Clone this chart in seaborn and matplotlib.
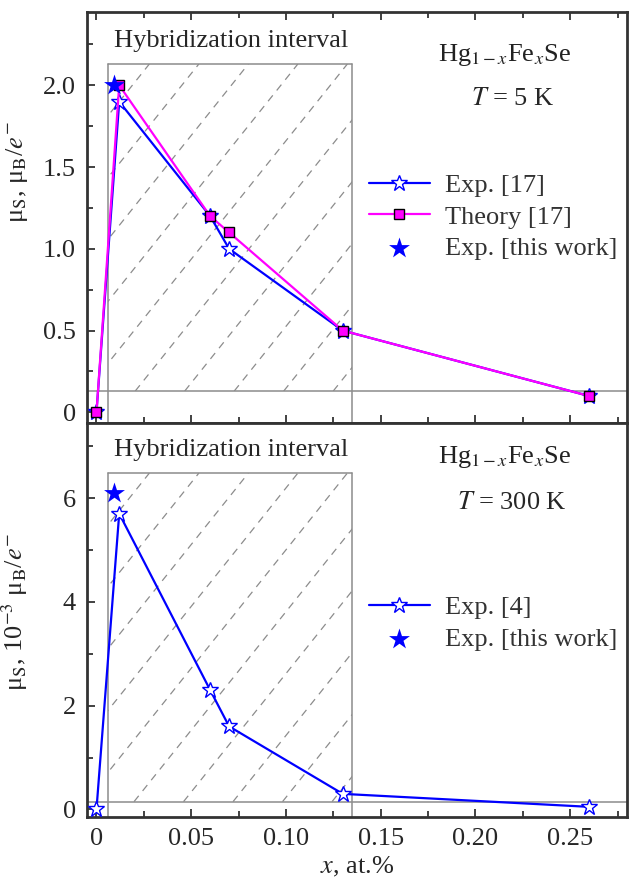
import numpy as np
import matplotlib
matplotlib.use("Agg")
import matplotlib.pyplot as plt
import seaborn as sns
from matplotlib.patches import Rectangle
from matplotlib.ticker import MultipleLocator, FuncFormatter

# ---------------- data ----------------
# T = 5 K panel
x_exp17 = [0, 0.012, 0.06, 0.07, 0.13, 0.26]
mu_exp17 = [0, 1.9, 1.2, 1.0, 0.5, 0.1]
x_theory17 = [0, 0.012, 0.06, 0.07, 0.13, 0.26]
mu_theory17 = [0, 2.0, 1.2, 1.1, 0.5, 0.1]
x_this_5K = [0.009]
mu_this_5K = [2.0]

# T = 300 K panel
x_exp4 = [0, 0.012, 0.06, 0.07, 0.13, 0.26]
mu_exp4 = [0, 5.7, 2.3, 1.6, 0.3, 0.05]
x_this_300K = [0.009]
mu_this_300K = [6.1]

# hybridization interval box
hyb_x = (0.006, 0.135)
hyb_y_5K = (0.13, 2.13)
hyb_y_300K = (0.15, 6.48)

BLUE = "#0000ff"
MAGENTA = "#ff00ff"
GREY = "#8c8c8c"
FRAME = "#333333"

sns.set_style("ticks")
plt.rcParams["font.family"] = ["Liberation Serif", "DejaVu Serif"]
plt.rcParams["mathtext.fontset"] = "stix"
plt.rcParams["font.size"] = 19

fig = plt.figure(figsize=(6.32, 8.81), dpi=100)
W, H = 632, 881
ax1 = fig.add_axes([87 / W, (H - 423) / H, 540 / W, 411.3 / H])
ax2 = fig.add_axes([87 / W, (H - 816.7) / H, 540 / W, 393.4 / H])

ax1.set_xlim(-0.005, 0.28)
ax2.set_xlim(-0.005, 0.28)
ax1.set_ylim(-0.065, 2.45)
ax2.set_ylim(-0.14, 7.44)


def hybrid_box(ax, xr, yr):
    x0, x1 = xr
    y0, y1 = yr
    ylo, yhi = ax.get_ylim()
    # full-width lower line and the two side lines down to the axis
    ax.axhline(y0, color=GREY, lw=1.1, zorder=1)
    top_frac = (y1 - ylo) / (yhi - ylo)
    ax.axvline(x0, ymax=top_frac, color=GREY, lw=1.1, zorder=1)
    ax.axvline(x1, ymax=top_frac, color=GREY, lw=1.1, zorder=1)
    ax.plot([x0, x1], [y1, y1], color=GREY, lw=1.1, zorder=1)
    clip = Rectangle((x0, y0), x1 - x0, y1 - y0, transform=ax.transData,
                     fill=False, lw=0)
    ax.add_patch(clip)
    # dashed diagonal hatching, drawn in pixel space then mapped back
    k = fig.dpi / 100.0
    (px0, py0), (px1, py1) = ax.transData.transform([(x0, y0), (x1, y1)])
    inv = ax.transData.inverted()
    slope = 1.25
    run = (py1 - py0) / slope
    for xt in np.arange(px0 - 8 * k, px1 + run, 49.5 * k):
        pts = inv.transform([(xt - run, py0), (xt, py1)])
        ln, = ax.plot(pts[:, 0], pts[:, 1], color=GREY, lw=0.9,
                      ls=(0, (6, 5)), zorder=1)
        ln.set_clip_path(clip)


hybrid_box(ax1, hyb_x, hyb_y_5K)
hybrid_box(ax2, hyb_x, hyb_y_300K)

# ---------------- top panel ----------------
sns.lineplot(x=x_exp17, y=mu_exp17, sort=False, ax=ax1, color=BLUE, lw=1.6,
             marker="*", markersize=12, markerfacecolor="white",
             markeredgecolor=BLUE, markeredgewidth=1.0, label="Exp. [17]",
             zorder=3)
sns.lineplot(x=x_theory17, y=mu_theory17, sort=False, ax=ax1, color=MAGENTA,
             lw=1.6, marker="s", markersize=6.5, markerfacecolor=MAGENTA,
             markeredgecolor="black", markeredgewidth=1.0,
             label="Theory [17]", zorder=4)
sns.scatterplot(x=x_this_5K, y=mu_this_5K, ax=ax1, marker="*", s=250,
                color=BLUE, edgecolor=BLUE, linewidth=0,
                label="Exp. [this work]", zorder=5)

# ---------------- bottom panel ----------------
sns.lineplot(x=x_exp4, y=mu_exp4, sort=False, ax=ax2, color=BLUE, lw=1.6,
             marker="*", markersize=12, markerfacecolor="white",
             markeredgecolor=BLUE, markeredgewidth=1.0, label="Exp. [4]",
             zorder=3)
sns.scatterplot(x=x_this_300K, y=mu_this_300K, ax=ax2, marker="*", s=250,
                color=BLUE, edgecolor=BLUE, linewidth=0,
                label="Exp. [this work]", zorder=5)

# ---------------- axes styling ----------------
for ax in (ax1, ax2):
    for sp in ax.spines.values():
        sp.set_color(FRAME)
        sp.set_linewidth(2.0)
    ax.xaxis.set_major_locator(MultipleLocator(0.05))
    ax.xaxis.set_minor_locator(MultipleLocator(0.025))
    ax.tick_params(which="both", direction="in", color=FRAME, width=1.3,
                   labelsize=19, pad=8, right=False)
    ax.tick_params(which="major", length=6)
    ax.tick_params(which="minor", length=4)
    ax.set_xlabel("")

ax1.tick_params(which="both", top=True, labelbottom=False)
ax1.yaxis.set_major_locator(MultipleLocator(0.5))
ax1.yaxis.set_minor_locator(MultipleLocator(0.25))
ax1.yaxis.set_major_formatter(FuncFormatter(lambda v, p: "0" if abs(v) < 1e-9 else f"{v:.1f}"))
ax2.yaxis.set_major_locator(MultipleLocator(2))
ax2.yaxis.set_minor_locator(MultipleLocator(1))
ax2.yaxis.set_major_formatter(FuncFormatter(lambda v, p: f"{v:.0f}"))
ax2.xaxis.set_major_formatter(FuncFormatter(lambda v, p: "0" if abs(v) < 1e-9 else f"{v:.2f}"))

ax1.set_ylabel("μ$_\\mathrm{S}$, μ$_\\mathrm{B}$/$e^{-}$", fontsize=19)
ax1.yaxis.set_label_coords(-0.105, 0.61)
ax2.set_ylabel("μ$_\\mathrm{S}$, 10$^{-3}$ μ$_\\mathrm{B}$/$e^{-}$", fontsize=19)
ax2.yaxis.set_label_coords(-0.105, 0.52)
ax2.set_xlabel("$x$, at.%", fontsize=19, labelpad=4)

# annotations
ax1.text(0.267, 0.915, "Hybridization interval", transform=ax1.transAxes,
         ha="center", va="baseline", fontsize=19)
ax1.text(0.774, 0.881, "Hg$_{1-x}$Fe$_{x}$Se", transform=ax1.transAxes,
         ha="center", va="baseline", fontsize=19, color="#222222")
ax1.text(0.789, 0.773, "$T$ = 5 K", transform=ax1.transAxes,
         ha="center", va="baseline", fontsize=19)
ax2.text(0.267, 0.918, "Hybridization interval", transform=ax2.transAxes,
         ha="center", va="baseline", fontsize=19)
ax2.text(0.774, 0.898, "Hg$_{1-x}$Fe$_{x}$Se", transform=ax2.transAxes,
         ha="center", va="baseline", fontsize=19, color="#222222")
ax2.text(0.787, 0.781, "$T$ = 300 K", transform=ax2.transAxes,
         ha="center", va="baseline", fontsize=19)

# legends
ax1.legend(loc="center left", bbox_to_anchor=(0.522, 0.501), frameon=False,
           fontsize=19, handlelength=2.3, handletextpad=0.6, labelspacing=0.3,
           borderpad=0, borderaxespad=0, numpoints=1, labelcolor="#333333")
ax2.legend(loc="center left", bbox_to_anchor=(0.522, 0.492), frameon=False,
           fontsize=19, handlelength=2.3, handletextpad=0.6, labelspacing=0.3,
           borderpad=0, borderaxespad=0, numpoints=1, labelcolor="#333333")

fig.savefig("out.png", dpi=100)
